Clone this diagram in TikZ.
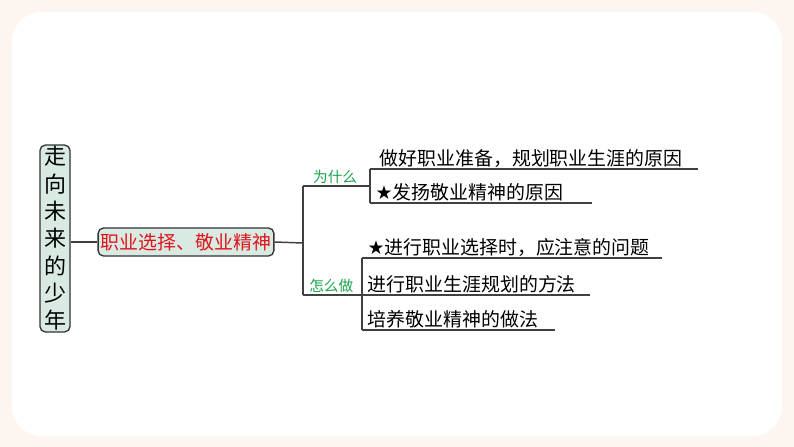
\documentclass[tikz,border=0pt]{standalone}
\usepackage{fontspec}
\setmainfont{Noto Sans CJK SC}
\definecolor{bgout}{HTML}{FDF5EF}
\definecolor{boxfill}{HTML}{D9EAE3}
\definecolor{lbl}{HTML}{1BA34A}
\definecolor{redt}{HTML}{E0141B}
\begin{document}
\begin{tikzpicture}[x=0.75pt,y=-0.75pt,
  ln/.style={draw=black!75,line width=1.1pt},
  item/.style={anchor=south west,inner sep=1pt,font=\fontsize{14.2}{15}\selectfont},
  glbl/.style={anchor=south,inner sep=1pt,text=lbl,font=\fontsize{11}{12}\selectfont}]
\useasboundingbox (0,0) rectangle (794,447);
\fill[bgout] (0,0) rectangle (794,447);
\fill[white,rounded corners=22pt] (12,12) rectangle (782,436);
\node[draw=black!80,line width=1pt,fill=boxfill,rounded corners=4pt,minimum width=22.5pt,align=center,inner sep=1pt,minimum height=125pt,font=\fontsize{16.5}{20.5}\selectfont] (root) at (55,238.5) {走\\向\\未\\来\\的\\少\\年};
\node[draw=black!80,line width=1pt,fill=boxfill,rounded corners=4pt,inner sep=2pt,minimum height=21pt,text=redt,font=\fontsize{14.2}{15}\selectfont] (br) at (186,242) {职业选择、敬业精神};
\coordinate (j) at (303,243);
\coordinate (jt) at (303,186);
\coordinate (jb) at (303,295);
\coordinate (t) at (370,186);
\coordinate (b) at (362,295);
\draw[ln] (root.east|-br) -- (br.west);
\draw[ln] (br.east) -- (j);
\draw[ln] (jt) -- (jb);
\draw[ln] (jt) -- node[glbl,pos=0.48] (why) {为什么} (t);
\draw[ln] (jb) -- node[glbl,pos=0.48] (how) {怎么做} (b);
\coordinate (t1) at (370,169); \coordinate (t1e) at (698,169);
\coordinate (t2) at (370,203); \coordinate (t2e) at (592,203);
\coordinate (b1) at (362,258); \coordinate (b1e) at (662,258);
\coordinate (b2) at (362,295); \coordinate (b2e) at (590,295);
\coordinate (b3) at (362,330); \coordinate (b3e) at (555,330);
\draw[ln] (t1) -- (t2);
\draw[ln] (t1) -- (t1e);
\draw[ln] (t2) -- (t2e);
\draw[ln] (b1) -- (b3);
\draw[ln] (b1) -- (b1e);
\draw[ln] (b2) -- (b2e);
\draw[ln] (b3) -- (b3e);
\node[item] (i1) at (378,169) {做好职业准备，规划职业生涯的原因};
\node[item] (i2) at (374,203) {{\fontspec{DejaVu Sans}★}发扬敬业精神的原因};
\node[item] (i3) at (366,258) {{\fontspec{DejaVu Sans}★}进行职业选择时，应注意的问题};
\node[item] (i4) at (366,295) {进行职业生涯规划的方法};
\node[item] (i5) at (366,330) {培养敬业精神的做法};
\end{tikzpicture}
\end{document}
